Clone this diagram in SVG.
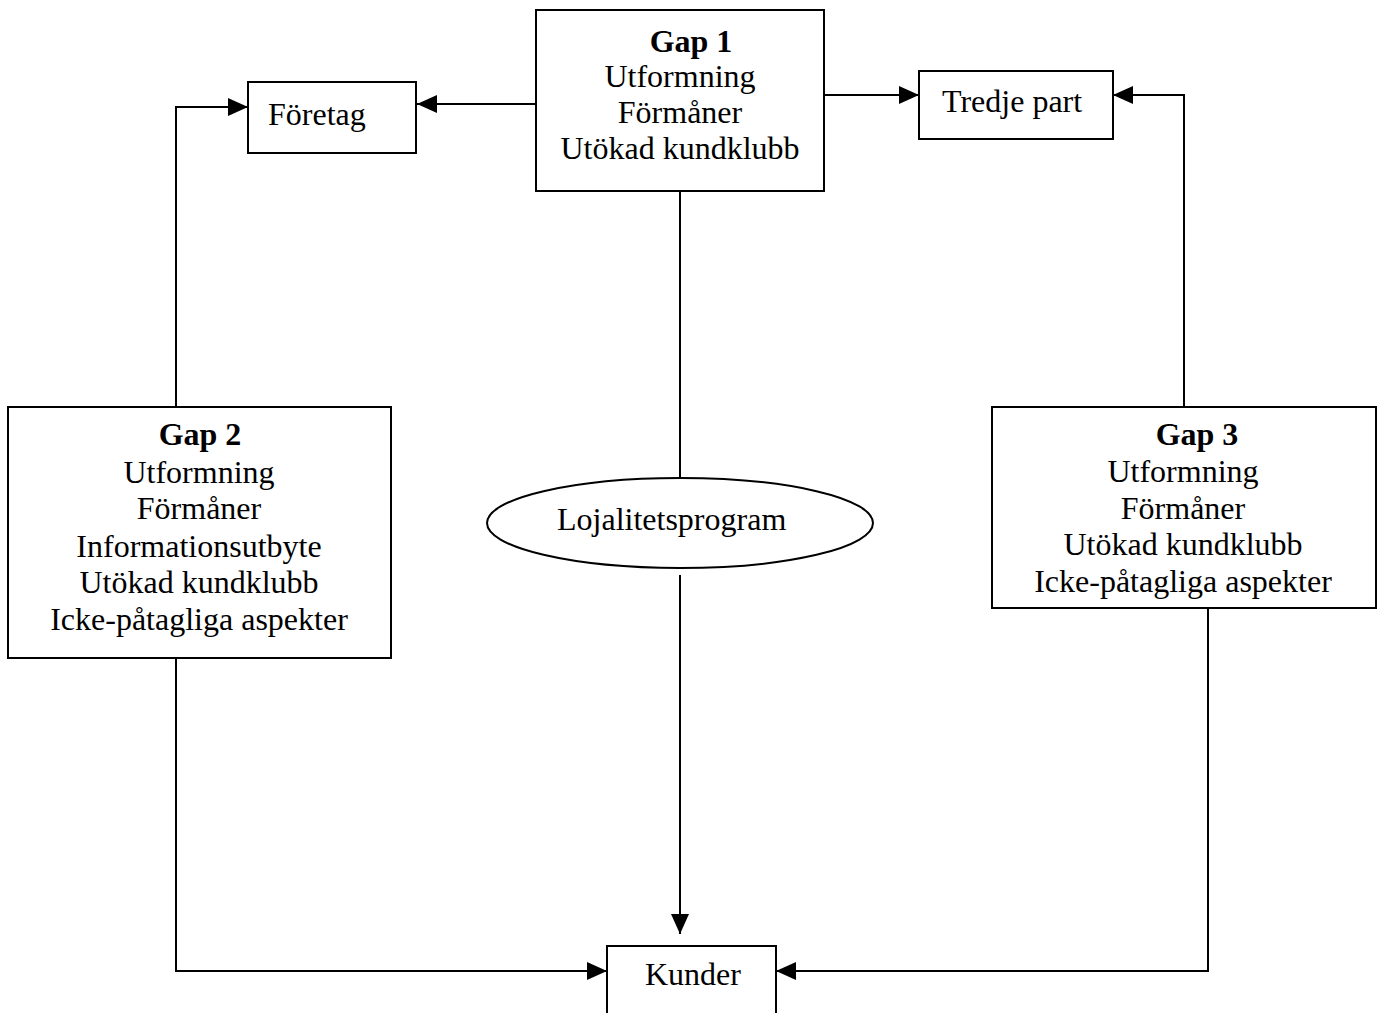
<svg xmlns="http://www.w3.org/2000/svg" width="1384" height="1013" viewBox="0 0 1384 1013">
  <style>
    .box { fill: #ffffff; stroke: #000000; stroke-width: 2; }
    .wire { fill: none; stroke: #000000; stroke-width: 2; }
    text { font-family: "Liberation Serif", "Times New Roman", serif; font-size: 32px; fill: #000000; }
    .mid { text-anchor: middle; }
    .head { font-weight: bold; }
  </style>
  <defs>
    <marker id="arrow" viewBox="0 0 20 18" refX="20" refY="9" markerWidth="20" markerHeight="18" markerUnits="userSpaceOnUse" orient="auto">
      <path d="M0,0 L20,9 L0,18 Z" fill="#000000"/>
    </marker>
  </defs>

  <rect width="1384" height="1013" fill="#ffffff"/>

  <!-- connectors -->
  <g id="connectors">
    <path class="wire" d="M536,104 H417" marker-end="url(#arrow)"/>
    <path class="wire" d="M824,95 H919" marker-end="url(#arrow)"/>
    <path class="wire" d="M176,407 V107 H248" marker-end="url(#arrow)"/>
    <path class="wire" d="M1184,407 V95 H1113" marker-end="url(#arrow)"/>
    <path class="wire" d="M680,190 V478"/>
    <path class="wire" d="M680,575 V934" marker-end="url(#arrow)"/>
    <path class="wire" d="M176,658 V971 H607" marker-end="url(#arrow)"/>
    <path class="wire" d="M1208,608 V971 H776" marker-end="url(#arrow)"/>
  </g>

  <g id="gap1">
    <rect class="box" x="536" y="10" width="288" height="181"/>
    <text class="mid head" x="691" y="52">Gap 1</text>
    <text class="mid" x="680" y="87">Utformning</text>
    <text class="mid" x="680" y="123">Förmåner</text>
    <text class="mid" x="680" y="159">Utökad kundklubb</text>
  </g>

  <g id="foretag">
    <rect class="box" x="248" y="82" width="168" height="71"/>
    <text x="268" y="125">Företag</text>
  </g>

  <g id="tredje-part">
    <rect class="box" x="919" y="71" width="194" height="68"/>
    <text x="942" y="112">Tredje part</text>
  </g>

  <g id="gap2">
    <rect class="box" x="8" y="407" width="383" height="251"/>
    <text class="mid head" x="200" y="445">Gap 2</text>
    <text class="mid" x="199" y="483">Utformning</text>
    <text class="mid" x="199" y="519">Förmåner</text>
    <text class="mid" x="199" y="557">Informationsutbyte</text>
    <text class="mid" x="199" y="593">Utökad kundklubb</text>
    <text class="mid" x="199" y="630">Icke-påtagliga aspekter</text>
  </g>

  <g id="gap3">
    <rect class="box" x="992" y="407" width="384" height="201"/>
    <text class="mid head" x="1197" y="445">Gap 3</text>
    <text class="mid" x="1183" y="482">Utformning</text>
    <text class="mid" x="1183" y="519">Förmåner</text>
    <text class="mid" x="1183" y="555">Utökad kundklubb</text>
    <text class="mid" x="1183" y="592">Icke-påtagliga aspekter</text>
  </g>

  <g id="lojalitetsprogram">
    <ellipse class="box" cx="680" cy="523" rx="193" ry="45"/>
    <text x="557" y="530">Lojalitetsprogram</text>
  </g>

  <g id="kunder">
    <rect class="box" x="607" y="946" width="169" height="80"/>
    <text x="645" y="985">Kunder</text>
  </g>
</svg>
